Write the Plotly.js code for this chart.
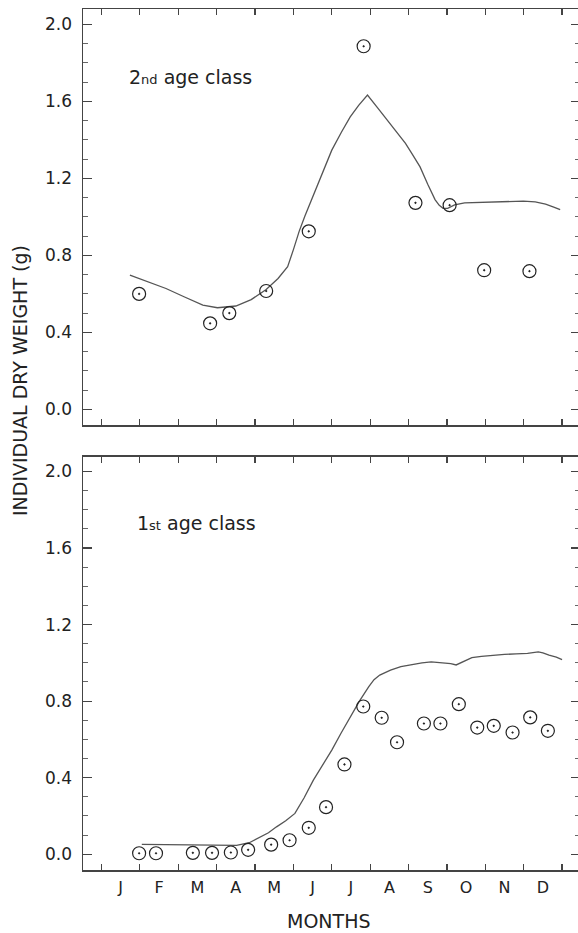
<!DOCTYPE html>
<html>
<head>
<meta charset="utf-8">
<script src="https://cdn.plot.ly/plotly-3.0.1.min.js"></script>
<style>html,body{margin:0;padding:0;background:#fff;overflow:hidden;}#chart{width:580px;height:933px;}</style>
</head>
<body>
<div id="chart"></div>
<script>
// x positions are in months (0 = 1 January, 12 = 31 December)
var monthLabels = ["J","F","M","A","M","J","J","A","S","O","N","D"];
var monthMid = [0.5,1.5,2.5,3.5,4.5,5.5,6.5,7.5,8.5,9.5,10.5,11.5];

// 2nd age class — observed
var obs2X = [0.98, 2.83, 3.33, 4.29, 5.40, 6.83, 8.18, 9.07, 9.97, 11.15];
var obs2Y = [0.60, 0.447, 0.50, 0.615, 0.925, 1.887, 1.073, 1.061, 0.723, 0.718];
// 2nd age class — fitted curve
var fit2X = [0.74, 1.20, 1.68, 2.15, 2.64, 3.02, 3.50, 3.90, 4.29, 4.60, 4.85, 5.00, 5.15, 5.30, 5.47, 5.75, 6.00, 6.25, 6.48, 6.70, 6.93, 7.20, 7.44, 7.70, 7.92, 8.10, 8.30, 8.50, 8.69, 8.80, 8.90, 9.02, 9.20, 9.46, 9.90, 10.32, 10.70, 10.99, 11.30, 11.57, 11.80, 11.95];
var fit2Y = [0.698, 0.665, 0.628, 0.585, 0.542, 0.528, 0.537, 0.570, 0.623, 0.680, 0.741, 0.830, 0.925, 1.005, 1.087, 1.225, 1.347, 1.440, 1.520, 1.580, 1.633, 1.565, 1.503, 1.440, 1.382, 1.325, 1.260, 1.170, 1.090, 1.060, 1.045, 1.044, 1.062, 1.073, 1.076, 1.078, 1.080, 1.082, 1.078, 1.066, 1.050, 1.038];

// 1st age class — observed
var obs1X = [0.98, 1.42, 2.38, 2.88, 3.37, 3.82, 4.42, 4.90, 5.40, 5.85, 6.33, 6.82, 7.30, 7.70, 8.40, 8.83, 9.31, 9.79, 10.22, 10.71, 11.17, 11.63];
var obs1Y = [0.005, 0.005, 0.007, 0.007, 0.009, 0.023, 0.050, 0.073, 0.138, 0.246, 0.469, 0.772, 0.713, 0.585, 0.683, 0.683, 0.784, 0.662, 0.671, 0.636, 0.715, 0.645];
// 1st age class — fitted curve
var fit1X = [1.05, 1.60, 2.20, 2.80, 3.20, 3.52, 3.85, 4.13, 4.35, 4.56, 4.80, 5.04, 5.28, 5.52, 5.76, 6.00, 6.24, 6.48, 6.72, 6.96, 7.10, 7.25, 7.53, 7.80, 8.11, 8.35, 8.59, 8.88, 9.10, 9.24, 9.45, 9.65, 9.90, 10.13, 10.50, 10.80, 11.10, 11.38, 11.50, 11.66, 11.85, 12.00];
var fit1Y = [0.051, 0.050, 0.049, 0.048, 0.047, 0.046, 0.060, 0.090, 0.112, 0.143, 0.175, 0.213, 0.295, 0.387, 0.466, 0.544, 0.632, 0.718, 0.800, 0.875, 0.912, 0.936, 0.962, 0.980, 0.993, 1.000, 1.005, 1.002, 0.996, 0.989, 1.010, 1.027, 1.034, 1.039, 1.044, 1.047, 1.050, 1.057, 1.052, 1.040, 1.030, 1.017];

var FONT = "DejaVu Sans, sans-serif";
var INK = "#222";
var AX = "#444";

var markerStyle = {symbol: "circle-open-dot", size: 13, color: "#222", line: {width: 1.2, color: "#222"}};
var lineStyle = {color: "#555", width: 1.3};

var traces = [
  {x: fit2X, y: fit2Y, mode: "lines", line: lineStyle, xaxis: "x", yaxis: "y", hoverinfo: "skip"},
  {x: obs2X, y: obs2Y, mode: "markers", marker: markerStyle, xaxis: "x", yaxis: "y"},
  {x: fit1X, y: fit1Y, mode: "lines", line: lineStyle, xaxis: "x2", yaxis: "y2", hoverinfo: "skip"},
  {x: obs1X, y: obs1Y, mode: "markers", marker: markerStyle, xaxis: "x2", yaxis: "y2"}
];

function yAx(domain, range) {
  return {
    domain: domain, range: range, showgrid: false, zeroline: false,
    showline: true, linecolor: AX, linewidth: 1.5, mirror: "ticks",
    tickmode: "array", tickvals: [0, 0.4, 0.8, 1.2, 1.6, 2.0],
    ticktext: ["0.0", "0.4", "0.8", "1.2", "1.6", "2.0"],
    ticks: "inside", ticklen: 9, tickwidth: 1.2, tickcolor: AX,
    minor: {tick0: 0, dtick: 0.1, ticks: "inside", ticklen: 5, tickwidth: 1, tickcolor: "#666"},
    tickfont: {family: FONT, size: 17, color: INK},
    ticklabelstandoff: 6
  };
}
function xAx(anchor, labels) {
  return {
    anchor: anchor, range: [-0.482, 12.467], domain: [0, 1],
    showgrid: false, zeroline: false,
    showline: true, linecolor: AX, linewidth: 1.5, mirror: "ticks",
    tickmode: "array", tickvals: monthMid, ticktext: labels ? monthLabels : monthMid.map(function(){return "";}),
    ticks: "", showticklabels: !!labels,
    minor: {tick0: 0, dtick: 1, ticks: "inside", ticklen: 6, tickwidth: 1.2, tickcolor: AX},
    tickfont: {family: FONT, size: 16, color: INK},
    ticklabelstandoff: 2
  };
}

var layout = {
  width: 580, height: 933,
  margin: {l: 83, r: 0, t: 9, b: 63},
  paper_bgcolor: "#fff", plot_bgcolor: "#fff",
  showlegend: false,
  font: {family: FONT, color: INK},
  xaxis: xAx("y", false),
  yaxis: yAx([0.5168, 1], [-0.0816, 2.0805]),
  xaxis2: xAx("y2", true),
  yaxis2: yAx([0, 0.4797], [-0.0826, 2.076]),
  annotations: [
    {xref: "paper", yref: "paper", x: -0.1268, y: 0.569, text: "INDIVIDUAL DRY WEIGHT (g)",
     textangle: -90, showarrow: false, font: {family: FONT, size: 19, color: INK}, xanchor: "center", yanchor: "middle"},
    {xref: "paper", yref: "paper", x: 0.4945, y: -0.0592, text: "MONTHS",
     showarrow: false, font: {family: FONT, size: 19, color: INK}, xanchor: "center", yanchor: "middle"},
    {xref: "x", yref: "y", x: 0.66, y: 1.725, text: "2<span style=\"font-size:13px\">nd</span> age class",
     showarrow: false, font: {family: FONT, size: 19, color: INK}, xanchor: "left", yanchor: "middle"},
    {xref: "x2", yref: "y2", x: 0.86, y: 1.73, text: "1<span style=\"font-size:13px\">st</span> age class",
     showarrow: false, font: {family: FONT, size: 19, color: INK}, xanchor: "left", yanchor: "middle"}
  ]
};

Plotly.newPlot("chart", traces, layout, {staticPlot: true, displayModeBar: false});
</script>
</body>
</html>
